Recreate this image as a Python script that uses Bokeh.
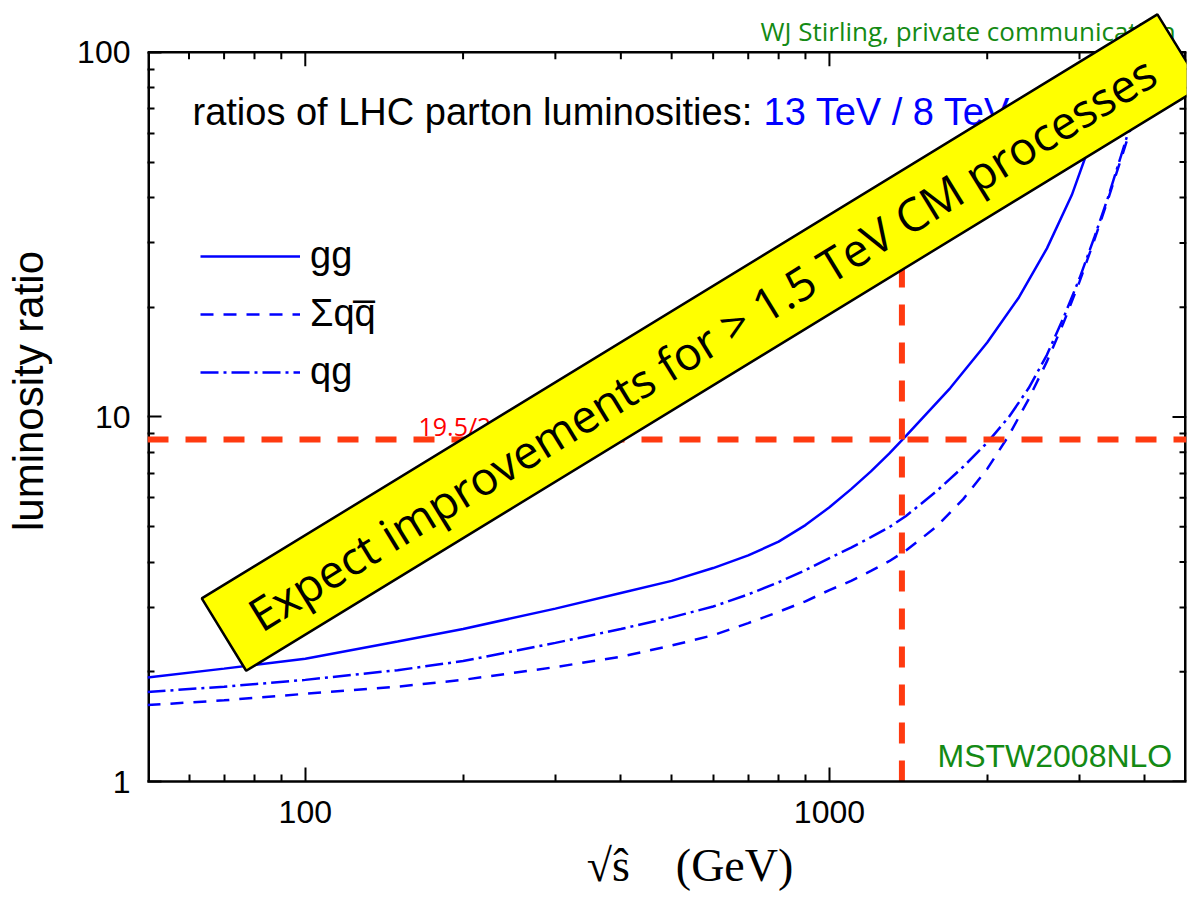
import math
from bokeh.plotting import figure
from bokeh.models import (FixedTicker, BasicTickFormatter, Label, Legend,
                          LegendItem, PolyAnnotation, Span)
from bokeh.embed import file_html
from bokeh.resources import INLINE

# ---------------- data ----------------
sqrt_s_gg = [50, 70, 100, 150, 200, 300, 400, 500, 600, 700, 800, 900, 1000, 1100,
             1200, 1300, 1400, 1700, 2000, 2300, 2600, 2900, 3200, 3500]
ratio_gg = [1.93, 2.04, 2.17, 2.42, 2.62, 2.98, 3.29, 3.55, 3.85, 4.17, 4.55, 5.05,
            5.65, 6.34, 7.09, 7.93, 8.87, 12.0, 16.0, 21.3, 29.0, 40.6, 60.3, 94.0]

sqrt_s_q = [50, 70, 100, 150, 200, 300, 400, 500, 600, 700, 800, 900, 1000, 1100,
            1200, 1300, 1400, 1600, 1800, 2000, 2200, 2400, 2600, 2800, 3000, 3200,
            3400, 3600, 3800, 4000, 4200]
ratio_qg = [1.76, 1.82, 1.90, 2.02, 2.14, 2.40, 2.62, 2.82, 3.02, 3.26, 3.52, 3.80,
            4.10, 4.38, 4.68, 4.98, 5.35, 6.25, 7.30, 8.50, 10.0, 12.0, 14.8, 18.8,
            24.0, 31.0, 40.0, 52.0, 67.0, 84.0, 100.0]
ratio_qqbar = [1.62, 1.67, 1.74, 1.82, 1.90, 2.06, 2.20, 2.36, 2.52, 2.72, 2.92, 3.12,
               3.35, 3.55, 3.78, 4.02, 4.30, 5.00, 5.95, 7.20, 8.90, 11.2, 14.2, 18.2,
               23.5, 30.5, 39.5, 51.0, 65.0, 82.0, 98.0]

series_labels = ["gg", "\u03a3qq\u0305", "qg"]

ratio_target = 19.5 / 2.25      # horizontal red reference line
sqrt_s_cross = 1375             # vertical red reference line
ratio_cross_top = 30

x_ticks = [100, 1000]
x_minor = [60, 70, 80, 90, 200, 300, 400, 500, 600, 700, 800, 900, 2000, 3000, 4000]
y_ticks = [1, 10, 100]
y_minor = [2, 3, 4, 5, 6, 7, 8, 9, 20, 30, 40, 50, 60, 70, 80, 90]

XMIN, XMAX = 50, 4800
YMIN, YMAX = 1, 100

# ---------------- layout (page pixels) ----------------
FRAME_L, FRAME_R = 147, 1186
AX_T, AX_B = 52, 783          # pixel rows of y=100 and y=1
W, H = 1188, 893


def dx(px):
    return 10 ** (math.log10(XMIN) + (px - FRAME_L) / (FRAME_R - FRAME_L) * math.log10(XMAX / XMIN))


def dy(py):
    return 10 ** (math.log10(YMIN) + (AX_B - py) / (AX_B - AX_T) * math.log10(YMAX / YMIN))


p = figure(width=W, height=H, x_axis_type="log", y_axis_type="log",
           x_range=(XMIN, XMAX), y_range=(YMIN, dy(0)),
           output_backend="svg", toolbar_location=None,
           min_border_left=FRAME_L, min_border_top=0,
           min_border_right=W - FRAME_R, min_border_bottom=H - AX_B)
p.background_fill_color = "white"
p.border_fill_color = "white"
p.grid.visible = False
p.outline_line_color = None

AX_FONT = "Liberation Sans"


def style_axis(ax, ticks, minor):
    ax.ticker = FixedTicker(ticks=ticks, minor_ticks=minor)
    ax.axis_line_width = 2.5
    ax.axis_line_color = "black"
    ax.major_tick_in = 14
    ax.major_tick_out = 0
    ax.minor_tick_in = 7
    ax.minor_tick_out = 0
    ax.major_tick_line_width = 2
    ax.minor_tick_line_width = 2
    ax.major_tick_line_color = "black"
    ax.minor_tick_line_color = "black"
    ax.formatter = BasicTickFormatter(use_scientific=False)
    ax.major_label_text_font = AX_FONT
    ax.major_label_text_font_size = "32px"
    ax.major_label_text_color = "black"


xa = p.xaxis[0]
style_axis(xa, x_ticks, x_minor)
xa.major_label_standoff = 19
xa.axis_label = "\u2002\u2002\u221as\u0302\u2003(GeV)"
xa.axis_label_text_font = "Liberation Serif"
xa.axis_label_text_font_size = "46px"
xa.axis_label_text_font_style = "normal"
xa.axis_label_text_color = "black"
xa.axis_label_standoff = 14

ya = p.yaxis[0]
style_axis(ya, y_ticks, y_minor)
ya.axis_line_color = None
ya.major_label_standoff = 17
ya.axis_label = "luminosity ratio"
ya.axis_label_text_font = AX_FONT
ya.axis_label_text_font_size = "42px"
ya.axis_label_text_font_style = "normal"
ya.axis_label_text_color = "black"
ya.axis_label_standoff = 22

# frame pieces above / right (spines and inward ticks)
p.add_layout(Span(location=YMAX, dimension="width", line_color="black", line_width=2.5))
p.segment(x0=[XMIN, XMAX], y0=[YMIN, YMIN], x1=[XMIN, XMAX], y1=[YMAX, YMAX],
          line_color="black", line_width=5)
p.segment(x0=x_ticks, y0=[YMAX] * len(x_ticks), x1=x_ticks, y1=[dy(AX_T + 14)] * len(x_ticks),
          line_color="black", line_width=2)
p.segment(x0=x_minor, y0=[YMAX] * len(x_minor), x1=x_minor, y1=[dy(AX_T + 7)] * len(x_minor),
          line_color="black", line_width=2)
p.segment(x0=[XMAX] * len(y_ticks), y0=y_ticks, x1=[dx(FRAME_R - 14)] * len(y_ticks), y1=y_ticks,
          line_color="black", line_width=2)
p.segment(x0=[XMAX] * len(y_minor), y0=y_minor, x1=[dx(FRAME_R - 7)] * len(y_minor), y1=y_minor,
          line_color="black", line_width=2)

BLUE = "#0000FF"
r_gg = p.line(sqrt_s_gg, ratio_gg, line_color=BLUE, line_width=2.5)
r_qq = p.line(sqrt_s_q, ratio_qqbar, line_color=BLUE, line_width=2.5, line_dash="13 10")
r_qg = p.line(sqrt_s_q, ratio_qg, line_color=BLUE, line_width=2.5, line_dash="18 5 3 5")

# red reference lines
RED = "#FF3A10"
p.add_layout(Span(location=ratio_target, dimension="width", line_color=RED,
                  line_width=6, line_dash="21 17"))
p.segment(x0=[sqrt_s_cross], y0=[YMIN], x1=[sqrt_s_cross], y1=[ratio_cross_top],
          line_color=RED, line_width=6, line_dash="21 17")

legend = Legend(items=[LegendItem(label=series_labels[0], renderers=[r_gg]),
                       LegendItem(label=series_labels[1], renderers=[r_qq]),
                       LegendItem(label=series_labels[2], renderers=[r_qg])],
                location=(53, AX_B - 395), glyph_width=100, glyph_height=40, label_height=40,
                label_standoff=10, spacing=15, padding=0, margin=0,
                background_fill_alpha=0, border_line_color=None,
                label_text_font=AX_FONT, label_text_font_size="38px",
                label_text_color="black")
p.add_layout(legend)

# texts
p.add_layout(Label(x=dx(192), y=dy(112), text="ratios of LHC parton luminosities:",
                   text_font=AX_FONT, text_font_size="38px", text_color="black",
                   text_baseline="alphabetic", text_align="left"))
p.add_layout(Label(x=dx(763), y=dy(112), text="13 TeV / 8 TeV",
                   text_font=AX_FONT, text_font_size="38px", text_color=BLUE,
                   text_baseline="alphabetic", text_align="left"))
p.add_layout(Label(x=dx(760), y=dy(31), text="WJ Stirling, private communication",
                   text_font="Open Sans", text_font_size="26px", text_color="#148A14",
                   text_baseline="alphabetic", text_align="left"))
p.add_layout(Label(x=dx(937), y=dy(757), text="MSTW2008NLO",
                   text_font=AX_FONT, text_font_size="32px", text_color="#148A14",
                   text_baseline="alphabetic", text_align="left"))
p.add_layout(Label(x=dx(418), y=dy(427), text="19.5/2.25",
                   text_font="Open Sans", text_font_size="25px", text_color="#FF0000",
                   text_baseline="alphabetic", text_align="left"))

# yellow banner
cx, cy = 701.3, 342.9
half_len, half_h = 560.4, 42.5
ang = math.radians(31.5)
ux, uy = math.cos(ang), -math.sin(ang)
nx, ny = math.sin(ang), math.cos(ang)
corners = [(cx - half_len * ux - half_h * nx, cy - half_len * uy - half_h * ny),
           (cx + half_len * ux - half_h * nx, cy + half_len * uy - half_h * ny),
           (cx + half_len * ux + half_h * nx, cy + half_len * uy + half_h * ny),
           (cx - half_len * ux + half_h * nx, cy - half_len * uy + half_h * ny)]
banner = PolyAnnotation(xs=[dx(c[0]) for c in corners], ys=[dy(c[1]) for c in corners],
                        fill_color="#FFFF00", fill_alpha=1.0, line_color="black",
                        line_alpha=1.0, line_width=2.5, level="overlay")
p.add_layout(banner)
p.add_layout(Label(x=dx(cx), y=dy(cy), text="Expect improvements for > 1.5 TeV CM processes",
                   angle=ang, text_font="Open Sans", text_font_size="46px",
                   text_color="black", text_align="center", text_baseline="middle",
                   level="overlay"))

open("out.html", "w").write(file_html(p, INLINE))
